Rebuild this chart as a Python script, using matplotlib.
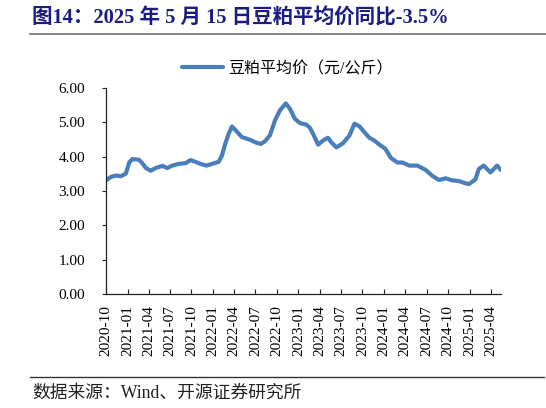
import matplotlib
matplotlib.use("Agg")
import matplotlib.pyplot as plt
import matplotlib.dates as mdates
from matplotlib.lines import Line2D
import pandas as pd

FAM = ['Liberation Serif', 'Noto Sans CJK SC', 'DejaVu Sans']
plt.rcParams['font.family'] = FAM

title = "图14：2025 年 5 月 15 日豆粕平均价同比-3.5%"
source = "数据来源：Wind、开源证券研究所"
series_name = "豆粕平均价（元/公斤）"

dates = ["2020-10-01","2020-10-22","2020-11-12","2020-12-04","2020-12-25","2021-01-08",
         "2021-01-22","2021-02-19","2021-03-06","2021-03-20","2021-04-10","2021-05-01",
         "2021-05-30","2021-06-20","2021-07-11","2021-08-08","2021-09-06","2021-09-27",
         "2021-10-18","2021-11-08","2021-12-04","2021-12-28","2022-01-25","2022-02-08",
         "2022-02-22","2022-03-09","2022-03-23","2022-04-06","2022-05-04","2022-06-09",
         "2022-06-30","2022-07-24","2022-08-11","2022-09-01","2022-09-23","2022-10-14",
         "2022-11-08","2022-11-25","2022-12-17","2023-01-07","2023-02-04","2023-02-18",
         "2023-03-04","2023-03-26","2023-04-16","2023-05-07","2023-05-21","2023-06-12",
         "2023-07-10","2023-08-07","2023-08-28","2023-09-19","2023-10-10","2023-10-31",
         "2023-11-21","2023-12-13","2024-01-07","2024-01-31","2024-02-28","2024-03-20",
         "2024-04-18","2024-05-23","2024-06-28","2024-07-26","2024-08-23","2024-09-21",
         "2024-10-19","2024-11-16","2024-12-07","2024-12-29","2025-01-26","2025-02-09",
         "2025-03-02","2025-03-31","2025-04-28","2025-05-15"]
values = [3.31,3.41,3.45,3.43,3.51,3.83,
          3.93,3.91,3.80,3.67,3.59,3.67,
          3.73,3.67,3.74,3.79,3.81,3.90,
          3.85,3.79,3.74,3.79,3.85,4.03,
          4.37,4.67,4.88,4.78,4.57,4.49,
          4.42,4.37,4.45,4.62,5.06,5.35,
          5.55,5.40,5.10,4.98,4.93,4.85,
          4.67,4.35,4.47,4.55,4.42,4.27,
          4.39,4.62,4.96,4.88,4.71,4.55,
          4.47,4.35,4.23,3.96,3.83,3.83,
          3.74,3.74,3.61,3.44,3.32,3.37,
          3.31,3.29,3.24,3.20,3.34,3.64,
          3.74,3.54,3.74,3.61]

tick_labels = ["2020-10","2021-01","2021-04","2021-07","2021-10","2022-01","2022-04",
               "2022-07","2022-10","2023-01","2023-04","2023-07","2023-10","2024-01",
               "2024-04","2024-07","2024-10","2025-01","2025-04"]
y_ticks = [0, 1, 2, 3, 4, 5, 6]

x = pd.to_datetime(dates)

fig = plt.figure(figsize=(5.46, 4.08), dpi=100)
ax = fig.add_axes([106/546, 1-294/408, (501-106)/546, (294-88)/408])

line, = ax.plot(x, values, color='#4a7ebb', lw=3.0, solid_capstyle='round',
                solid_joinstyle='round', label=series_name)

ax.set_xlim(x[0], x[-1])
ax.set_ylim(0, 6)
ax.set_yticks(y_ticks)
ax.set_yticklabels([f"{v:.2f}" for v in y_ticks])
tk = pd.to_datetime(tick_labels)
ax.set_xticks(tk)
ax.set_xticklabels(tick_labels, rotation=90)

for s in ['top', 'right']:
    ax.spines[s].set_visible(False)
for s in ['left', 'bottom']:
    ax.spines[s].set_color('#222222')
    ax.spines[s].set_linewidth(0.9)
ax.tick_params(axis='y', direction='out', length=3, width=0.8, color='#222222',
               labelsize=11, pad=12)
ax.tick_params(axis='x', direction='in', length=3.5, width=0.8, color='#222222',
               labelsize=11, pad=8)
for lab in ax.get_xticklabels() + ax.get_yticklabels():
    lab.set_fontfamily('Liberation Serif')

leg = ax.legend(handles=[line], loc='center', bbox_to_anchor=((287-106)/395, (294-69)/206),
                frameon=False, handlelength=2.6, handletextpad=0.3,
                prop={'family': ['Liberation Serif', 'Noto Sans CJK SC'], 'size': 11.5})

fig.text(32/546, 1-18/408, title, fontsize=14.8, fontweight='bold', color='#1c1c7e',
         ha='left', va='center', family=FAM)
fig.add_artist(Line2D([30/546, 1.0], [1-34/408, 1-34/408], color='#7f7f7f', lw=1.3,
                      transform=fig.transFigure))
fig.add_artist(Line2D([30/546, 544/546], [1-377/408, 1-377/408], color='#333333', lw=1.0,
                      transform=fig.transFigure))
fig.text(32/546, 1-393/408, source, fontsize=12.8, color='#222222', ha='left', va='center',
         family=FAM)

fig.savefig("out.png", dpi=100)
